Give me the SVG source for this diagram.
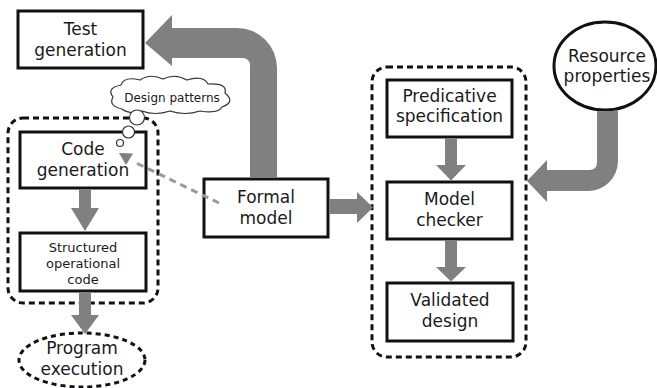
<svg xmlns="http://www.w3.org/2000/svg" width="657" height="388" viewBox="0 0 657 388">
  <style>
    .box { fill: #ffffff; stroke: #111111; stroke-width: 3; }
    .group { fill: none; stroke: #111111; stroke-width: 3; stroke-dasharray: 6 4; }
    .fat { fill: #808080; stroke: none; }
    .bubble { fill: #ffffff; stroke: #333333; stroke-width: 1.2; }
    .t { font-family: "DejaVu Sans", Verdana, sans-serif; font-size: 17px; fill: #1a1a1a; text-anchor: middle; }
    .s { font-family: "DejaVu Sans", Verdana, sans-serif; font-size: 13px; fill: #1a1a1a; text-anchor: middle; }
    .xs { font-family: "DejaVu Sans", Verdana, sans-serif; font-size: 12px; fill: #1a1a1a; text-anchor: middle; }
  </style>

  <rect width="657" height="388" fill="#ffffff"/>

  <!-- dashed groupings -->
  <rect class="group" x="8" y="118" width="150" height="185" rx="15"/>
  <rect class="group" x="372" y="67" width="154" height="290" rx="15"/>

  <g id="test-generation">
    <rect class="box" x="18" y="11" width="125" height="57"/>
    <text class="t" x="80.5" y="35">Test</text>
    <text class="t" x="80.5" y="56">generation</text>
  </g>

  <g id="code-generation">
    <rect class="box" x="20" y="132" width="126" height="56"/>
    <text class="t" x="83" y="155">Code</text>
    <text class="t" x="83" y="176">generation</text>
  </g>

  <g id="design-patterns">
    <path class="bubble" d="M122 109 Q108 106 113 97 Q106 88 121 85 Q124 76 140 80 Q150 73 163 79 Q175 73 187 80 Q203 75 208 84 Q228 83 225 93 Q236 102 222 107 Q218 114 200 111 Q185 116 170 111 Q155 116 142 111 Q130 115 122 109 Z"/>
    <circle class="bubble" cx="137" cy="117.5" r="7.5"/>
    <circle class="bubble" cx="128.5" cy="132" r="6"/>
    <circle class="bubble" cx="120" cy="143" r="3.5"/>
    <text class="xs" x="172" y="102">Design patterns</text>
  </g>

  <g id="structured-code">
    <rect class="box" x="20" y="233" width="126" height="58"/>
    <text class="s" x="83" y="252">Structured</text>
    <text class="s" x="83" y="268">operational</text>
    <text class="s" x="83" y="284">code</text>
  </g>

  <g id="program-execution">
    <ellipse cx="82" cy="360" rx="63" ry="27" fill="#ffffff" stroke="#111111" stroke-width="3" stroke-dasharray="5 4"/>
    <text class="t" x="82" y="354">Program</text>
    <text class="t" x="82" y="375">execution</text>
  </g>

  <g id="formal-model">
    <rect class="box" x="204" y="179" width="124" height="58"/>
    <text class="t" x="266" y="203">Formal</text>
    <text class="t" x="266" y="224">model</text>
  </g>

  <g id="resource-properties">
    <ellipse cx="605" cy="66" rx="51" ry="44" fill="#ffffff" stroke="#111111" stroke-width="3"/>
    <text class="t" x="607" y="62">Resource</text>
    <text class="t" x="607" y="82">properties</text>
  </g>

  <g id="predicative-specification">
    <rect class="box" x="387" y="80" width="125" height="57"/>
    <text class="t" x="449.5" y="102">Predicative</text>
    <text class="t" x="449.5" y="122">specification</text>
  </g>

  <g id="model-checker">
    <rect class="box" x="387" y="182" width="125" height="57"/>
    <text class="t" x="449.5" y="205">Model</text>
    <text class="t" x="449.5" y="226">checker</text>
  </g>

  <g id="validated-design">
    <rect class="box" x="387" y="283" width="126" height="58"/>
    <text class="t" x="450" y="306">Validated</text>
    <text class="t" x="450" y="327">design</text>
  </g>

  <g id="connectors">
    <!-- formal model up to test generation -->
    <path class="fat" d="M250 177.5 L250 66 Q250 58 242 58 L172 58 L172 66 L145 43 L172 15 L172 28 L237 28 A40 40 0 0 1 277 68 L277 177.5 Z"/>
    <!-- resource properties into the checking group -->
    <path class="fat" d="M597 111 L597 162 Q597 170 589 170 L547 170 L547 160 L527 181 L547 202 L547 191 L588 191 A30 30 0 0 0 618 161 L618 110.3 Q607.5 111.5 597 111 Z"/>
    <!-- formal model to checking group -->
    <path class="fat" d="M329.5 199 L357 199 L357 192 L373 207.5 L357 223 L357 214 L329.5 214 Z"/>
    <!-- code generation to structured code -->
    <path class="fat" d="M79 189.5 L91 189.5 L91 208 L99 208 L85 231 L71 208 L79 208 Z"/>
    <!-- structured code to program execution -->
    <path class="fat" d="M79 292.5 L91 292.5 L91 315 L99 315 L85 334 L71 315 L79 315 Z"/>
    <!-- predicative specification to model checker -->
    <path class="fat" d="M445 138.5 L457 138.5 L457 165 L466 165 L451 180.5 L436 165 L445 165 Z"/>
    <!-- model checker to validated design -->
    <path class="fat" d="M445 240.5 L457 240.5 L457 267 L466 267 L451 281.5 L436 267 L445 267 Z"/>
    <!-- formal model to code generation (dashed, with its head) -->
    <line x1="219" y1="203" x2="134" y2="162" stroke="#9a9a9a" stroke-width="3" stroke-dasharray="7 5"/>
    <path d="M119 153 L133 153.5 L126 165 Z" fill="#808080"/>
  </g>
</svg>
